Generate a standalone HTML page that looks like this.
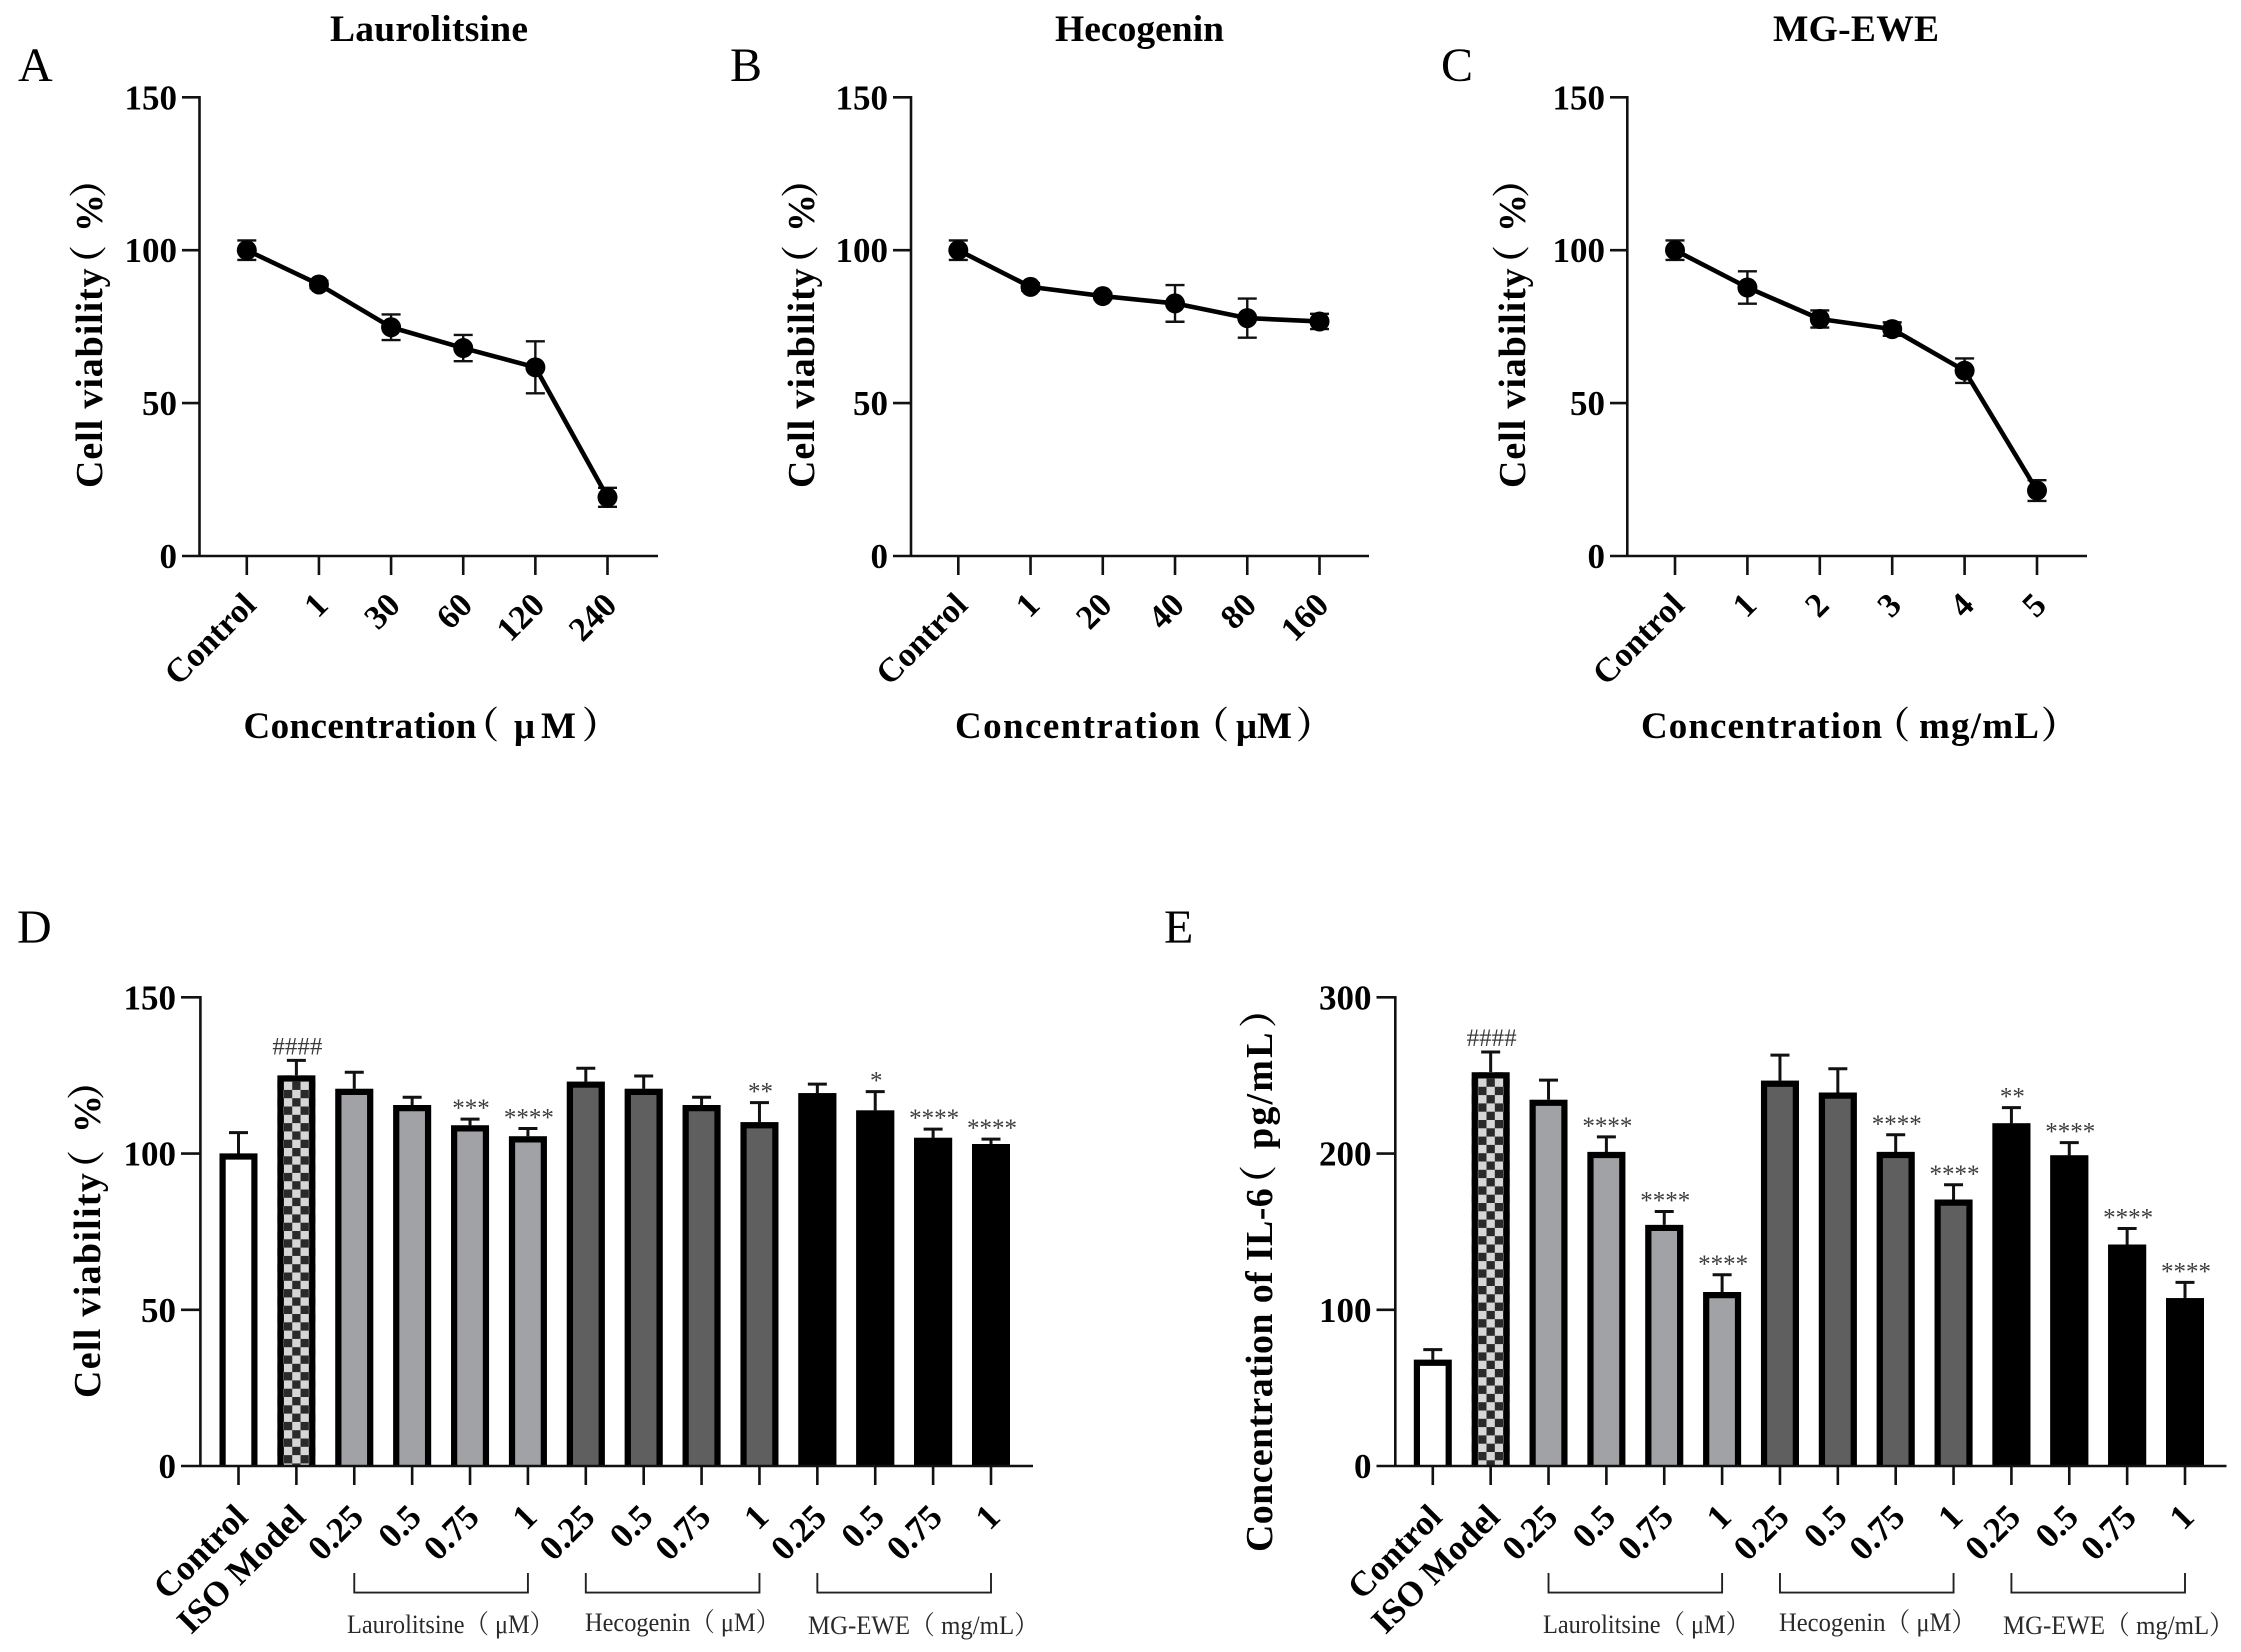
<!DOCTYPE html>
<html lang="en">
<head>
<meta charset="utf-8">
<title>Cell viability and IL-6 figure</title>
<style>
html,body{margin:0;padding:0;background:#fff;}
svg{display:block;}
text{font-family:"Liberation Serif","Noto Serif CJK SC",serif;fill:#000;}
.b{font-weight:bold;}
.glabel{fill:#2a2a2a;}
</style>
</head>
<body>
<svg id="fig" xmlns="http://www.w3.org/2000/svg" width="2241" height="1652" viewBox="0 0 2241 1652">
<rect x="0" y="0" width="2241" height="1652" fill="#fff"/>

<text x="18" y="81" font-size="48">A</text>
<text x="730" y="81" font-size="48">B</text>
<text x="1441" y="81" font-size="48">C</text>
<text x="17" y="943" font-size="48">D</text>
<text x="1164" y="943" font-size="48">E</text>

<text class="b" x="330" y="41" font-size="37.5" textLength="198" lengthAdjust="spacing">Laurolitsine</text>
<text class="b" x="1055" y="41" font-size="37.5" textLength="169" lengthAdjust="spacing">Hecogenin</text>
<text class="b" x="1773" y="41" font-size="37.5" textLength="166" lengthAdjust="spacing">MG-EWE</text>

<text class="b" y="738" font-size="37"><tspan x="243.5" letter-spacing="0.4">Concentration</tspan><tspan x="462">（</tspan><tspan x="514">μ</tspan><tspan x="541">M</tspan><tspan x="582">）</tspan></text>
<text class="b" y="738" font-size="37"><tspan x="955" letter-spacing="1.4">Concentration</tspan><tspan x="1192">（</tspan><tspan x="1236">μM</tspan><tspan x="1296">）</tspan></text>
<text class="b" y="738" font-size="37"><tspan x="1641" letter-spacing="1.08">Concentration</tspan><tspan x="1873">（</tspan><tspan x="1919" letter-spacing="1.2">mg/mL</tspan><tspan x="2041">）</tspan></text>

<text class="b" transform="translate(102,488) rotate(-90)" font-size="38"><tspan x="0" letter-spacing="0.9">Cell viability</tspan><tspan x="205">（</tspan><tspan x="256">%</tspan><tspan x="290">）</tspan></text>
<text class="b" transform="translate(814,488) rotate(-90)" font-size="38"><tspan x="0" letter-spacing="0.9">Cell viability</tspan><tspan x="205">（</tspan><tspan x="256">%</tspan><tspan x="290">）</tspan></text>
<text class="b" transform="translate(1525,488) rotate(-90)" font-size="38"><tspan x="0" letter-spacing="0.9">Cell viability</tspan><tspan x="205">（</tspan><tspan x="256">%</tspan><tspan x="290">）</tspan></text>
<text class="b" transform="translate(100,1398) rotate(-90)" font-size="38"><tspan x="0" letter-spacing="1.3">Cell viability</tspan><tspan x="210">（</tspan><tspan x="265">%</tspan><tspan x="298">）</tspan></text>
<text class="b" transform="translate(1272,1552) rotate(-90)" font-size="38"><tspan x="0" letter-spacing="0.35">Concentration of IL-6</tspan><tspan x="349">（</tspan><tspan x="403" letter-spacing="2.2">pg/mL</tspan><tspan x="524">）</tspan></text>

<g font-size="26">
<text class="glabel" x="347" y="1633" textLength="207" lengthAdjust="spacingAndGlyphs">Laurolitsine（ μM）</text>
<text class="glabel" x="585" y="1631" textLength="195" lengthAdjust="spacingAndGlyphs">Hecogenin（ μM）</text>
<text class="glabel" x="808" y="1634" textLength="231" lengthAdjust="spacingAndGlyphs">MG-EWE（ mg/mL）</text>
</g>
<g font-size="26">
<text class="glabel" x="1543" y="1633" textLength="207" lengthAdjust="spacingAndGlyphs">Laurolitsine（ μM）</text>
<text class="glabel" x="1779" y="1631" textLength="197" lengthAdjust="spacingAndGlyphs">Hecogenin（ μM）</text>
<text class="glabel" x="2003" y="1634" textLength="231" lengthAdjust="spacingAndGlyphs">MG-EWE（ mg/mL）</text>
</g>
</svg>

<script>
/* ---------- line chart data ---------- */
const catsA = ['Control', '1', '30', '60', '120', '240'];
const valsA = [100, 88.8, 74.8, 68, 61.7, 19.2];
const errsA = [3.2, 1.2, 4.2, 4.3, 8.5, 3.1];

const catsB = ['Control', '1', '20', '40', '80', '160'];
const valsB = [100, 88, 85, 82.6, 77.8, 76.7];
const errsB = [3.2, 1.2, 1, 6, 6.4, 2.5];

const catsC = ['Control', '1', '2', '3', '4', '5'];
const valsC = [100, 87.8, 77.5, 74.2, 60.6, 21.4];
const errsC = [3.2, 5.3, 2.8, 2.2, 4, 3.4];

const ticksViability = [0, 50, 100, 150];
const ticksIL6 = [0, 100, 200, 300];

/* ---------- bar chart data ---------- */
const barCats = ['Control', 'ISO Model', '0.25', '0.5', '0.75', '1', '0.25', '0.5', '0.75', '1', '0.25', '0.5', '0.75', '1'];

const valsD = [100, 125, 120.7, 115.5, 109, 105.5, 123, 120.7, 115.5, 110, 119.3, 113.8, 105, 103];
const errTopD = [106.7, 129.8, 126, 118, 111, 108, 127.3, 124.8, 118, 116.3, 122.2, 119.8, 107.8, 104.6];
const marksD = ['', '####', '', '', '***', '****', '', '', '', '**', '', '*', '****', '****'];

const valsE = [68, 252, 234.4, 201, 154.3, 111.3, 246.6, 239, 201, 170.5, 219.3, 198.8, 141.7, 107.4];
const errTopE = [74.5, 265, 247, 210.7, 162.9, 122.4, 263, 254.3, 212, 180, 229.4, 207, 152, 117.5];
const marksE = ['', '####', '', '****', '****', '****', '', '', '****', '****', '**', '****', '****', '****'];

/* ---------- helpers ---------- */
const NS = 'http://www.w3.org/2000/svg';
const fig = document.getElementById('fig');

function make(tag, props, parent) {
  const node = document.createElementNS(NS, tag);
  for (const k in props) node.setAttribute(k, props[k]);
  parent.appendChild(node);
  return node;
}

function linear(d0, d1, r0, r1) {
  return function (v) { return r0 + (v - d0) * (r1 - r0) / (d1 - d0); };
}

function drawAxes(g, layout, yTicks, cats, xScale, yScale, key, labelSize) {
  const yAxis = make('line', {x1: layout.axisX, x2: layout.axisX, y1: yScale(yTicks[yTicks.length - 1]) - 1.25, y2: layout.y0, stroke: '#111', 'stroke-width': 2.6}, g);
  
  

  const xAxis = make('line', {x1: layout.left, x2: layout.end, y1: layout.y0, y2: layout.y0, stroke: '#111', 'stroke-width': 2.6}, g);
  
  

  yTicks.forEach(function (t) {
    const yPos = yScale(t);
    if (t !== yTicks[0]) {
      const mark = make('line', {x1: layout.left, x2: layout.axisX, y1: yPos, y2: yPos, stroke: '#111', 'stroke-width': 2.6}, g);
      
      
    }
    const label = make('text', {x: layout.left - 5, y: yPos + 12, 'text-anchor': 'end', 'font-size': 35, 'font-weight': 'bold'}, g);
    
    
    label.textContent = t;
  });

  cats.forEach(function (c, i) {
    const xPos = xScale(i);
    const mark = make('line', {x1: xPos, x2: xPos, y1: layout.y0, y2: layout.y0 + 19, stroke: '#111', 'stroke-width': 2.6}, g);
    
    
    const label = make('text', {transform: 'translate(' + (xPos + layout.labelDx) + ',' + (layout.y0 + layout.labelDy) + ') rotate(-45)', 'text-anchor': 'end', 'font-size': labelSize, 'font-weight': 'bold'}, g);
    
    
    label.textContent = c;
  });
}

function drawLineChart(key, layout, cats, vals, errs) {
  const g = make('g', {}, fig);
  
  
  const xScale = linear(0, cats.length - 1, layout.first, layout.last);
  const yScale = linear(0, 150, layout.y0, layout.yTop);
  drawAxes(g, layout, ticksViability, cats, xScale, yScale, key, 34);

  vals.forEach(function (v, i) {
    const xPos = xScale(i);
    const hi = yScale(v + errs[i]);
    const lo = yScale(v - errs[i]);
    const err = make('path', {d: 'M' + (xPos - 9.5) + ' ' + hi + 'H' + (xPos + 9.5) + 'M' + xPos + ' ' + hi + 'V' + lo + 'M' + (xPos - 9.5) + ' ' + lo + 'H' + (xPos + 9.5), fill: 'none', stroke: '#111', 'stroke-width': 2.4}, g);
    
    
  });

  const pts = vals.map(function (v, i) { return xScale(i) + ',' + yScale(v); }).join(' ');
  const line = make('polyline', {points: pts, fill: 'none', stroke: '#000', 'stroke-width': 4.6, 'stroke-linejoin': 'round'}, g);
  
  

  vals.forEach(function (v, i) {
    const dot = make('circle', {cx: xScale(i), cy: yScale(v), r: 10, fill: '#000'}, g);
    
    
  });
}

function barFill(i, key) {
  if (i === 0) return '#fff';
  if (i === 1) return 'url(#check-' + key + ')';
  if (i < 6) return '#a0a2a6';
  if (i < 10) return '#5f5f5f';
  return '#000';
}

function drawBarChart(key, layout, yMax, yTicks, vals, errTop, marks) {
  const g = make('g', {}, fig);
  
  
  const xScale = linear(0, barCats.length - 1, layout.first, layout.last);
  const yScale = linear(0, yMax, layout.y0, layout.yTop);

  const defs = make('defs', {}, g);
  const pat = make('pattern', {id: 'check-' + key, patternUnits: 'userSpaceOnUse', x: xScale(1) - 12.45, y: yScale(vals[1]) + 6.2, width: 16.6, height: 16.6}, defs);
  make('rect', {x: 0, y: 0, width: 16.6, height: 16.6, fill: '#d6d6d6'}, pat);
  make('rect', {x: 8.3, y: 0, width: 8.3, height: 8.3, fill: '#2a2a2a'}, pat);
  make('rect', {x: 0, y: 8.3, width: 8.3, height: 8.3, fill: '#2a2a2a'}, pat);

  vals.forEach(function (v, i) {
    const xPos = xScale(i);
    const top = yScale(v);
    const hi = yScale(errTop[i]);
    const err = make('path', {d: 'M' + (xPos - 9.5) + ' ' + hi + 'H' + (xPos + 9.5) + 'M' + xPos + ' ' + hi + 'V' + top, fill: 'none', stroke: '#111', 'stroke-width': 3}, g);
    
    

    const bar = make('rect', {x: xPos - 19, y: top, width: 38, height: layout.y0 - top, fill: barFill(i, key)}, g);
    
    

    const edge = make('path', {d: 'M' + (xPos - 15.9) + ' ' + layout.y0 + 'V' + (top + 3) + 'H' + (xPos + 15.9) + 'V' + layout.y0, fill: 'none', stroke: '#000', 'stroke-width': 6.2}, g);
    
    

    if (marks[i]) {
      const isHash = marks[i].charAt(0) === '#';
      const note = make('text', {x: xPos + 1, y: hi - (isHash ? 6 : 3), 'text-anchor': 'middle', 'font-size': 25, style: 'fill:#3a3a3a'}, g);
      
      
      note.textContent = marks[i];
    }
  });

  drawAxes(g, layout, yTicks, barCats, xScale, yScale, key, 35);

  [[2, 5], [6, 9], [10, 13]].forEach(function (range, n) {
    const x1 = xScale(range[0]);
    const x2 = xScale(range[1]);
    const bracket = make('path', {d: 'M' + x1 + ' ' + layout.bracketTop + 'V' + layout.bracketBottom + 'H' + x2 + 'V' + layout.bracketTop, fill: 'none', stroke: '#222', 'stroke-width': 1.9}, g);
    
    
  });
}

/* ---------- draw ---------- */
drawLineChart('a', {axisX: 199.5, left: 182, end: 658, y0: 556, yTop: 97.3, first: 246.8, last: 607.5, labelDx: 11, labelDy: 51}, catsA, valsA, errsA);
drawLineChart('b', {axisX: 911, left: 893, end: 1369, y0: 556, yTop: 97.3, first: 958.3, last: 1319.5, labelDx: 11, labelDy: 51}, catsB, valsB, errsB);
drawLineChart('c', {axisX: 1627.3, left: 1610, end: 2087, y0: 556, yTop: 97.3, first: 1675, last: 2037, labelDx: 11, labelDy: 51}, catsC, valsC, errsC);

drawBarChart('d', {axisX: 200.4, left: 181, end: 1033, y0: 1466, yTop: 997.3, first: 238.5, last: 991, labelDx: 11, labelDy: 53, bracketTop: 1573, bracketBottom: 1592.6}, 150, ticksViability, valsD, errTopD, marksD);
drawBarChart('e', {axisX: 1395.3, left: 1376.5, end: 2226.5, y0: 1466, yTop: 997.3, first: 1432.8, last: 2185, labelDx: 11, labelDy: 53, bracketTop: 1573, bracketBottom: 1592.6}, 300, ticksIL6, valsE, errTopE, marksE);
</script>
</body>
</html>
